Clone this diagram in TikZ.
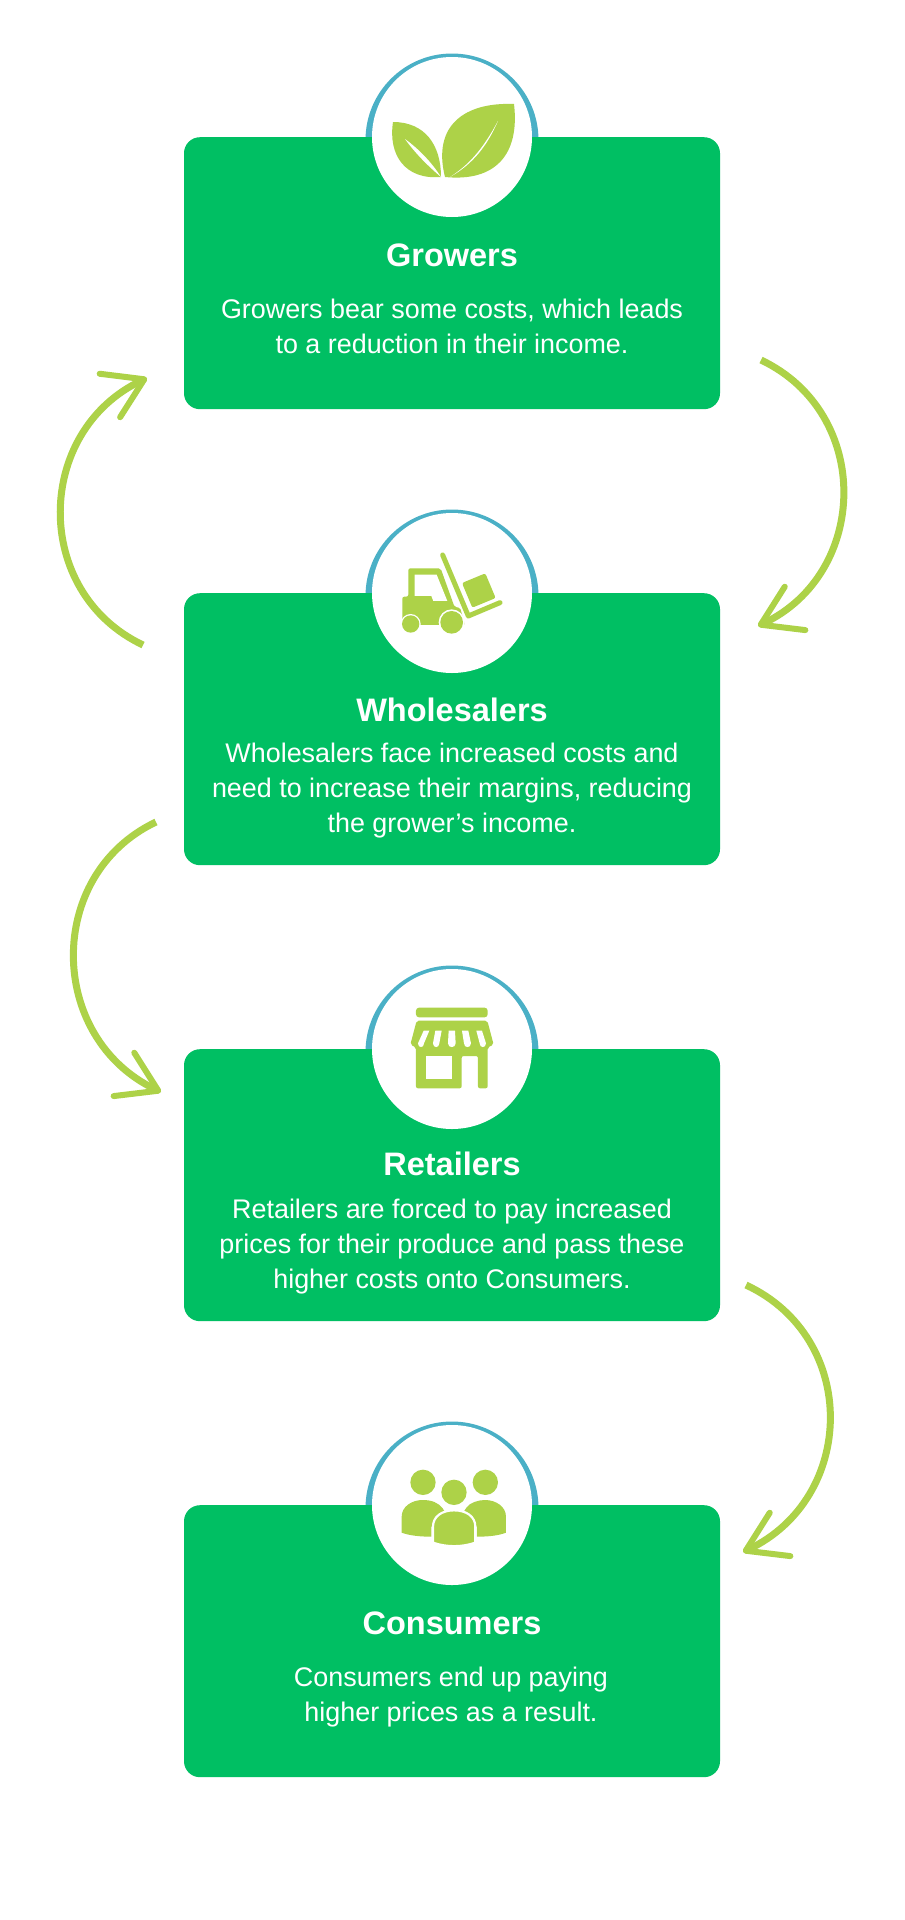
\documentclass[tikz,border=0pt]{standalone}
\usepackage{fontspec}
\setmainfont{Liberation Sans}
\usetikzlibrary{arrows.meta}
\definecolor{boxgreen}{HTML}{00BF63}
\definecolor{lime}{HTML}{ADD248}
\definecolor{ringblue}{HTML}{4AB0C6}
\tikzset{
  panel/.style={fill=boxgreen,rounded corners=16pt,minimum width=536pt,minimum height=272pt,inner sep=0pt},
  ring/.style={circle,fill=ringblue,minimum size=173pt,inner sep=0pt},
  disc/.style={circle,fill=white,minimum size=160pt,inner sep=0pt},
  title/.style={text=white,font=\fontsize{32.5}{38}\selectfont\bfseries,inner sep=0pt},
  body/.style={text=white,align=center,font=\fontsize{26.9}{35}\selectfont,inner sep=0pt},
  curl/.style={draw=lime,line width=7pt,-{Straight Barb[length=38pt,width=48pt,line width=6pt,round]}},
  icon/.style={fill=lime,draw=none},
  cut/.style={fill=white,draw=none},
  seam/.style={fill=lime,draw=white,line width=2.2pt}
}
\begin{document}
\begin{tikzpicture}[x=1pt,y=-1pt]
\useasboundingbox[fill=white] (0,0) rectangle (905,1920);

% rings, panels, discs
\node[ring] (r1) at (452,140) {};
\node[ring] (r2) at (452,596) {};
\node[ring] (r3) at (452,1052) {};
\node[ring] (r4) at (452,1508) {};
\node[panel,anchor=north] (p1) at (452,137) {};
\node[panel,anchor=north] (p2) at (452,593) {};
\node[panel,anchor=north] (p3) at (452,1049) {};
\node[panel,anchor=north] (p4) at (452,1505) {};
\node[disc] (d1) at (452,137) {};
\node[disc] (d2) at (452,593) {};
\node[disc] (d3) at (452,1049) {};
\node[disc] (d4) at (452,1505) {};

% texts
\node[title] (t1) at (452,255) {Growers};
\node[body] (x1) at (452,326) {Growers bear some costs, which leads\\to a reduction in their income.};
\node[title] (t2) at (452,710) {Wholesalers};
\node[body] (x2) at (452,791) {Wholesalers face increased costs and\\need to increase their margins, reducing\\the grower’s income.};
\node[title] (t3) at (452,1164) {Retailers};
\node[body] (x3) at (452,1247) {Retailers are forced to pay increased\\prices for their produce and pass these\\higher costs onto Consumers.};
\node[title] (t4) at (452,1623) {Consumers};
\node[body] (x4) at (451,1697) {Consumers end up paying\\higher prices as a result.};

% arrows
\coordinate (a1s) at (143,645);  \coordinate (a1e) at (147,378);
\coordinate (a2s) at (761,360);  \coordinate (a2e) at (758,626);
\coordinate (a3s) at (156,822);  \coordinate (a3e) at (161,1092);
\coordinate (a4s) at (746,1285); \coordinate (a4e) at (743,1552);
\draw[curl] (a1s) .. controls (31.4,592) and (34.4,431) .. (a1e);
\draw[curl] (a2s) .. controls (872.6,413) and (869.6,573) .. (a2e);
\draw[curl] (a3s) .. controls (44.4,875) and (47.4,1038) .. (a3e);
\draw[curl] (a4s) .. controls (859.6,1338) and (856.6,1498) .. (a4e);

% leaves
\fill[icon] (393,122) .. controls (425,122) and (441,145) .. (441,177)
  .. controls (405,180) and (388,155) .. (393,122) -- cycle;
\fill[cut] (405,139) .. controls (420,150) and (432,163) .. (441,177)
  .. controls (428,166) and (415,153) .. (405,139) -- cycle;
\fill[icon] (514,104) .. controls (465,102) and (432,125) .. (445,177)
  .. controls (495,182) and (520,155) .. (514,104) -- cycle;
\fill[cut] (498,121) .. controls (485,145) and (472,163) .. (450,177)
  .. controls (473,164) and (487,146) .. (498,121) -- cycle;

% forklift
\begin{scope}[shift={(350,500)},x=0.3333pt,y=-0.3333pt]
  \fill[icon,rounded corners=2pt] (157,375) -- (157,290) -- (175,290) -- (175,205) -- (272,205) -- (314,322) -- (330,322) -- (345,375) -- cycle;
  \fill[cut] (194,224) -- (260,224) -- (292,303) -- (250,303) -- (244,288) -- (194,288) -- cycle;
  \fill[cut] (182,372) circle (30);
  \fill[icon] (182,372) circle (26);
  \fill[cut] (305,367) circle (39);
  \fill[icon] (305,367) circle (34);
  \draw[lime,line width=5pt,line cap=round,line join=round] (278,165) -- (355,348) -- (450,308);
  \fill[icon,rounded corners=2pt] (336,249) -- (406,220) -- (437,294) -- (367,323) -- cycle;
\end{scope}

% store
\begin{scope}[shift={(350,960)},x=0.3333pt,y=-0.3333pt]
  \fill[icon,rounded corners=3pt] (198,143) rectangle (413,172);
  \fill[icon,rounded corners=2pt] (200,182) -- (412,182) -- (431,254) -- (413,262) -- (413,385) -- (384,385) -- (384,288) -- (335,288) -- (335,385) -- (198,385) -- (198,262) -- (181,254) -- cycle;
  \fill[cut] (228,288) rectangle (305,357);
  \foreach \xa/\xb/\xc/\xd in {221/238/222/204, 256/275/268/249, 296/315/317/294, 336/355/363/342, 379/396/408/389}{
    \fill[cut] (\xa,212) -- (\xb,212) -- (\xc,250) .. controls (\xc,265) and (\xd,265) .. (\xd,250) -- cycle;
  }
\end{scope}

% people
\begin{scope}[shift={(350,1420)},x=0.3333pt,y=-0.3333pt]
  \fill[icon] (219,187) circle (38);
  \fill[icon] (406,187) circle (38);
  \fill[icon] (155,338) -- (155,290) .. controls (155,260) and (185,240) .. (218,240) .. controls (245,240) and (265,248) .. (278,265) -- (300,300) -- (244,320) -- (244,350) .. controls (210,350) and (180,347) .. (155,338) -- cycle;
  \fill[icon] (468,338) -- (468,290) .. controls (468,260) and (438,240) .. (405,240) .. controls (385,240) and (360,248) .. (350,262) -- (325,300) -- (381,320) -- (381,350) .. controls (415,350) and (445,347) .. (468,338) -- cycle;
  \fill[icon] (312,217) circle (38);
  \draw[seam] (249,368) -- (249,320) .. controls (249,290) and (275,271) .. (312,271) .. controls (350,271) and (376,290) .. (376,320) -- (376,368) .. controls (335,382) and (290,382) .. (249,368) -- cycle;
\end{scope}
\end{tikzpicture}
\end{document}
